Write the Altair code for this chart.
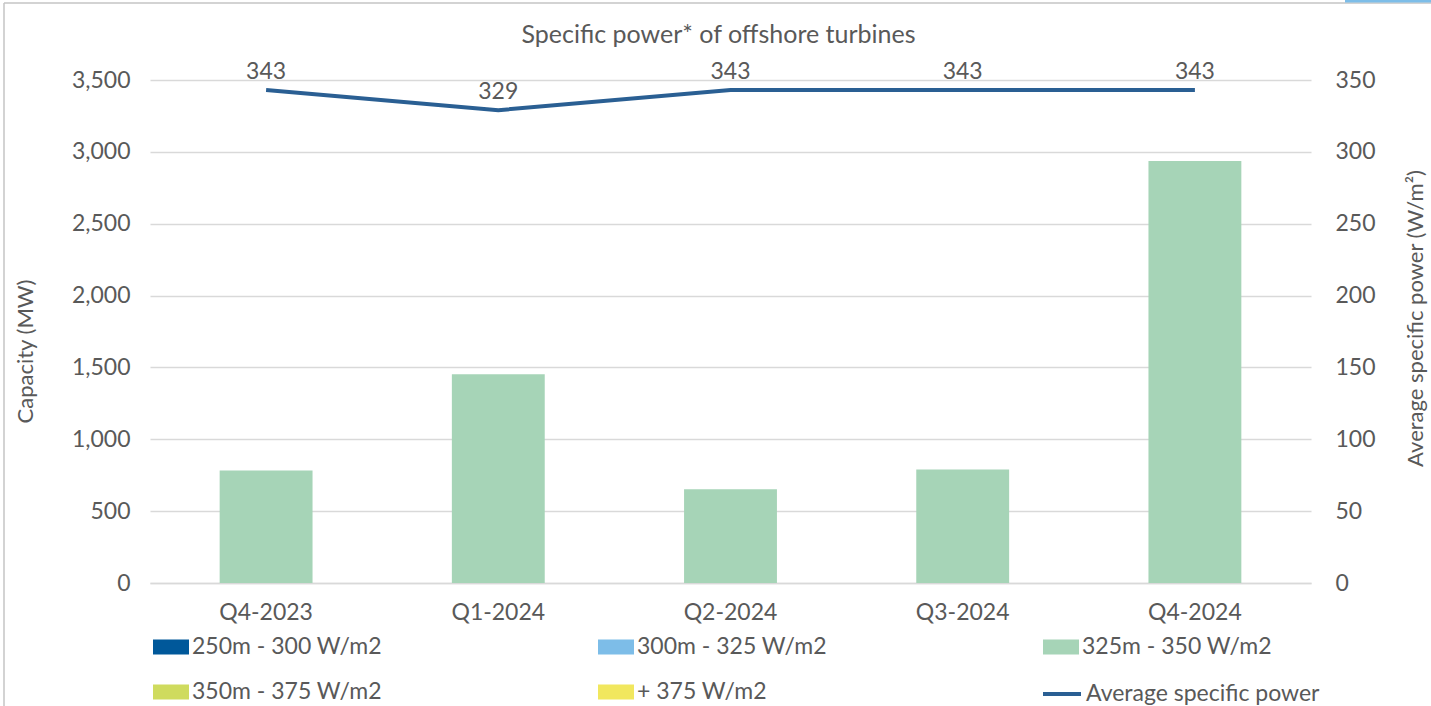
import altair as alt
import pandas as pd

# Quarterly offshore wind capacity by turbine specific-power class, plus the average
quarters = ["Q4-2023", "Q1-2024", "Q2-2024", "Q3-2024", "Q4-2024"]
band_labels = [
    "250m  - 300 W/m2",
    "300m  - 325 W/m2",
    "325m  - 350 W/m2",
    "350m  - 375 W/m2",
    "+ 375 W/m2",
]
band_colors = ["#00589A", "#7DBDE8", "#A6D4B7", "#CFDB5E", "#F1E75E"]

cap_250_300 = [0, 0, 0, 0, 0]
cap_300_325 = [0, 0, 0, 0, 0]
cap_325_350 = [783, 1453, 652, 790, 2937]
cap_350_375 = [0, 0, 0, 0, 0]
cap_375_plus = [0, 0, 0, 0, 0]

avg_specific_power = [343, 329, 343, 343, 343]
avg_label = "Average specific power"

capacity_ticks = [0, 500, 1000, 1500, 2000, 2500, 3000, 3500]
power_ticks = [0, 50, 100, 150, 200, 250, 300, 350]

FONT = "Lato"
TEXT = "#595959"
GRID = "#D9D9D9"
LINE = "#2A5F93"
LABEL_SIZE = 23

series = [cap_250_300, cap_300_325, cap_325_350, cap_350_375, cap_375_plus]
rows = []
for b_idx, (label, values) in enumerate(zip(band_labels, series)):
    for q, v in zip(quarters, values):
        rows.append({"quarter": q, "band": label, "band_idx": b_idx, "capacity": v})
bars_df = pd.DataFrame(rows)

line_df = pd.DataFrame(
    {"quarter": quarters, "power": avg_specific_power, "series": [avg_label] * len(quarters)}
)

x_enc = alt.X(
    "quarter:N",
    sort=quarters,
    scale=alt.Scale(paddingInner=0.6, paddingOuter=0.3),
    axis=alt.Axis(
        title=None,
        labelAngle=0,
        labelPadding=18,
        ticks=False,
        domain=True,
        domainColor=GRID,
        domainWidth=1.5,
        grid=False,
    ),
)

bars = (
    alt.Chart(bars_df)
    .mark_bar()
    .encode(
        x=x_enc,
        y=alt.Y(
            "capacity:Q",
            stack="zero",
            scale=alt.Scale(domain=[0, 3500], nice=False),
            axis=alt.Axis(
                values=capacity_ticks,
                format=",d",
                title="Capacity (MW)",
                titleX=-125,
                titleY=271,
                titleAngle=-90,
                titleAlign="center",
                titleBaseline="middle",
                labelPadding=20,
                grid=True,
                gridColor=GRID,
                gridWidth=1.5,
                domain=False,
                ticks=False,
            ),
        ),
        color=alt.Color(
            "band:N",
            sort=band_labels,
            scale=alt.Scale(domain=band_labels, range=band_colors),
            legend=alt.Legend(
                title=None,
                orient="none",
                direction="horizontal",
                columns=3,
                legendX=3,
                legendY=549,
                gridAlign="all",
                columnPadding=210,
                rowPadding=15,
                symbolType="M-1,-0.42H1V0.42H-1Z",
                symbolSize=1296,
                symbolStrokeWidth=0,
                labelOffset=3,
            ),
        ),
        order=alt.Order("band_idx:Q"),
    )
)

power_axis = alt.Axis(
    orient="right",
    values=power_ticks,
    title="Average specific power (W/m²)",
    titleX=104,
    titleY=238,
    titleAngle=-90,
    titleAlign="center",
    titleBaseline="middle",
    labelPadding=24,
    grid=False,
    domain=False,
    ticks=False,
)
power_scale = alt.Scale(domain=[0, 350], nice=False)

line = (
    alt.Chart(line_df)
    .mark_line(strokeWidth=4)
    .encode(
        x=x_enc,
        y=alt.Y("power:Q", scale=power_scale, axis=power_axis),
        stroke=alt.Stroke(
            "series:N",
            scale=alt.Scale(domain=[avg_label], range=[LINE]),
            legend=alt.Legend(
                title=None,
                orient="none",
                legendX=891,
                legendY=593,
                symbolType="stroke",
                symbolSize=1444,
                symbolStrokeWidth=4,
                labelOffset=3,
            ),
        ),
    )
)

labels = (
    alt.Chart(line_df)
    .mark_text(dy=-18, fontSize=LABEL_SIZE, font=FONT, color=TEXT)
    .encode(
        x=x_enc,
        y=alt.Y("power:Q", scale=power_scale, axis=power_axis),
        text=alt.Text("power:Q", format="d"),
    )
)

# thin frame around the figure
one = pd.DataFrame({"k": [0]})
frame_top = alt.Chart(one).mark_rule(color="#C4C4C4", strokeWidth=1.5).encode(
    x=alt.value(-146), x2=alt.value(1281), y=alt.value(-77)
)
frame_left = alt.Chart(one).mark_rule(color="#C4C4C4", strokeWidth=1.5).encode(
    x=alt.value(-146), y=alt.value(-77), y2=alt.value(626)
)
frame_tab = alt.Chart(one).mark_rule(color="#7DBDE8", strokeWidth=3).encode(
    x=alt.value(1195), x2=alt.value(1281), y=alt.value(-79)
)

chart = (
    alt.layer(bars, alt.layer(line, labels), frame_top, frame_left, frame_tab)
    .resolve_scale(y="independent")
    .properties(
        width=1161,
        height=503,
        autosize=alt.AutoSizeParams(type="none"),
        padding={"left": 150, "top": 80, "right": 120, "bottom": 123},
        title=alt.TitleParams(
            "Specific power* of offshore turbines",
            fontSize=25,
            font=FONT,
            fontWeight="normal",
            color=TEXT,
            anchor="middle",
            dx=-12,
            offset=-48,
        ),
    )
    .configure(background="white")
    .configure_view(stroke=None)
    .configure_axis(labelFont=FONT, labelFontSize=LABEL_SIZE, labelColor=TEXT,
                    titleFont=FONT, titleFontSize=22, titleFontWeight="normal", titleColor=TEXT)
    .configure_legend(labelFont=FONT, labelFontSize=LABEL_SIZE, labelColor=TEXT, labelLimit=400)
)

chart.save("out.html", embed_options={"renderer": "svg", "actions": False})
